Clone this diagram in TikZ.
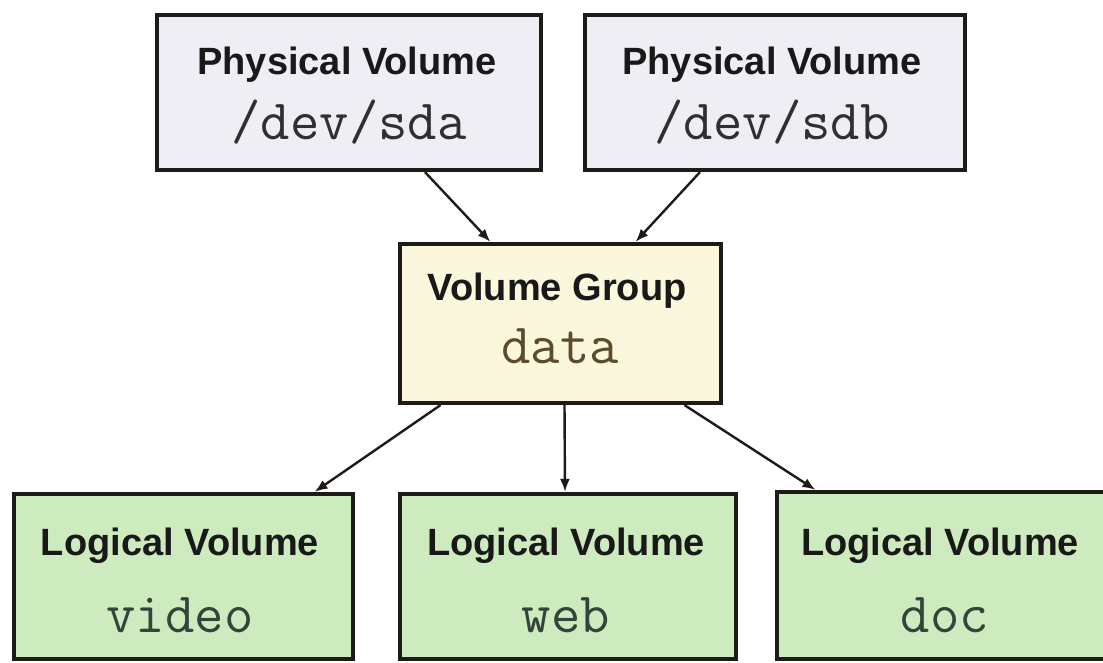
\documentclass[tikz,border=0pt]{standalone}
\usepackage{fontspec}
\setmainfont{Liberation Sans}
\usetikzlibrary{arrows.meta}
\definecolor{pvfill}{HTML}{EEEEF4}
\definecolor{vgfill}{HTML}{FAF7DC}
\definecolor{lvfill}{HTML}{CDEBBE}
\definecolor{bordc}{HTML}{1E1A18}
\definecolor{pvtext}{HTML}{303030}
\definecolor{vgtext}{HTML}{5C4C2C}
\definecolor{lvtext}{HTML}{34443A}
\tikzset{
  box/.style={draw=bordc, line width=4.2pt, inner sep=0pt},
  title/.style={anchor=base, inner sep=0pt, font=\fontsize{38}{40}\selectfont\bfseries, text=black!90},
  mono/.style={anchor=base, inner sep=0pt, font=\fontsize{57}{60}\selectfont\ttfamily},
  conn/.style={draw=bordc, line width=2.4pt, -{Latex[length=13pt,width=10pt]}}
}
\begin{document}
\begin{tikzpicture}[x=1pt,y=-1pt]
\clip (0,0) rectangle (1103,663);
\fill[white] (0,0) rectangle (1103,663);
% boxes
\node[box, fill=pvfill, minimum width=384pt, minimum height=155pt] (pva) at (349,92.5) {};
\node[box, fill=pvfill, minimum width=380pt, minimum height=155pt] (pvb) at (775,92.5) {};
\node[box, fill=vgfill, minimum width=321pt, minimum height=159pt] (vg) at (560.5,323.5) {};
\node[box, fill=lvfill, minimum width=339pt, minimum height=165pt] (lvv) at (183.5,576.5) {};
\node[box, fill=lvfill, minimum width=336pt, minimum height=165pt] (lvw) at (568,576.5) {};
\node[box, fill=lvfill, minimum width=343pt, minimum height=167pt] (lvd) at (948.5,575.5) {};
% texts
\node[title] (pvat) at (347,75) {Physical Volume};
\node[mono, text=pvtext] (pvam) at (349,140) {/dev/sda};
\node[title] (pvbt) at (772,75) {Physical Volume};
\node[mono, text=pvtext] (pvbm) at (772,140) {/dev/sdb};
\node[title] (vgt) at (557,300) {Volume Group};
\node[mono, text=vgtext] (vgm) at (560,363) {data};
\node[title] (lvvt) at (180,555) {Logical Volume};
\node[mono, text=lvtext] (lvvm) at (180,632) {video};
\node[title] (lvwt) at (566,555) {Logical Volume};
\node[mono, text=lvtext] (lvwm) at (566,632) {web};
\node[title] (lvdt) at (940,555) {Logical Volume};
\node[mono, text=lvtext] (lvdm) at (945,632) {doc};
% connectors
\draw[conn] ([xshift=76pt]pva.south) -- ([xshift=-70pt]vg.north);
\draw[conn] ([xshift=-75pt]pvb.south) -- ([xshift=75pt]vg.north);
\draw[conn] ([xshift=-120pt]vg.south) -- ([xshift=131pt]lvv.north);
\draw[conn] ([xshift=4pt]vg.south) -- ([xshift=-3pt]lvw.north);
\draw[conn] ([xshift=124pt]vg.south) -- ([xshift=-133pt]lvd.north);
\end{tikzpicture}
\end{document}
